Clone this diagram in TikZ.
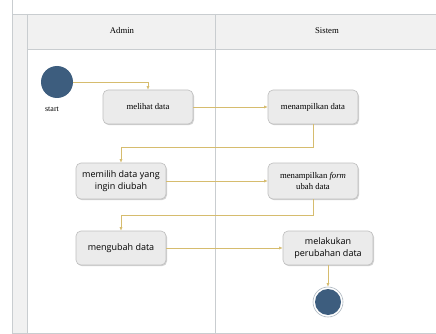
\documentclass[tikz,border=0pt]{standalone}
\usepackage{fontspec}
\setmainfont{Liberation Serif}
\newfontfamily\uisans{Open Sans}
\usetikzlibrary{arrows.meta,shadows,positioning}
\definecolor{lanegray}{HTML}{C9CDD0}
\definecolor{hdrfill}{HTML}{F1F1F1}
\definecolor{boxfill}{HTML}{EBEBEB}
\definecolor{boxline}{HTML}{BEBEBE}
\definecolor{flow}{HTML}{D6BC6E}
\definecolor{dotblue}{HTML}{3D5D7E}
\tikzset{
  actbox/.style={draw=boxline, fill=boxfill, rounded corners=5pt, line width=0.6pt,
    minimum width=90pt, minimum height=34pt, align=center, inner sep=2pt,
    drop shadow={shadow xshift=1pt, shadow yshift=-1.2pt, opacity=0.35, fill=gray}},
  serifbox/.style={actbox, font=\fontsize{8.7}{10.5}\selectfont},
  sansbox/.style={actbox, font=\uisans\fontsize{9}{11.5}\selectfont},
  flowline/.style={draw=flow, line width=0.6pt, -{Latex[length=3.5pt,width=3pt]}},
  laneline/.style={draw=lanegray, line width=0.7pt},
}
\begin{document}
\begin{tikzpicture}[x=1pt,y=-1pt]
\useasboundingbox (0,0) rectangle (436,334);
\fill[white] (0,0) rectangle (436,334);
% header and left strip
\fill[hdrfill] (27,14) rectangle (436,49);
\fill[hdrfill] (12,14) rectangle (27,334);
\draw[laneline] (12,0) -- (12,334);
\draw[laneline] (27,14) -- (27,334);
\draw[laneline] (12,14) -- (436,14);
\draw[laneline] (27,49) -- (436,49);
\draw[laneline] (215,14) -- (215,334);
\draw[laneline] (12,333) -- (436,333);
\node[font=\fontsize{8.7}{10}\selectfont] (hadmin) at (122,31) {Admin};
\node[font=\fontsize{8.7}{10}\selectfont] (hsistem) at (327,31) {Sistem};
% nodes
\node[circle, fill=dotblue, minimum size=32pt, inner sep=0pt] (start) at (57,82) {};
\node[font=\fontsize{8}{9}\selectfont] (startlbl) at (52,109) {start};
\node[serifbox] (melihat) at (148,107) {melihat data};
\node[serifbox] (tampil) at (313,107) {menampilkan data};
\node[sansbox, minimum height=36pt] (memilih) at (121,181) {memilih data yang\\ingin diubah};
\node[serifbox, minimum height=36pt] (form) at (313,181) {menampilkan \textit{form}\\ubah data};
\node[sansbox] (ubah) at (121,248) {mengubah data};
\node[sansbox] (lakukan) at (328,248) {melakukan\\perubahan data};
\node[circle, draw=lanegray!80!dotblue, line width=0.6pt, fill=white, minimum size=30pt, inner sep=0pt] (end) at (328,302) {};
\node[circle, fill=dotblue, minimum size=26pt, inner sep=0pt] (endin) at (end.center) {};
% connectors
\draw[flowline] (start.east) -| (melihat.north);
\draw[flowline] (melihat.east) -- (tampil.west);
\draw[flowline] (tampil.south) -- ++(0,23) -| (memilih.north);
\draw[flowline] (memilih.east) -- (form.west);
\draw[flowline] (form.south) -- ++(0,16) -| (ubah.north);
\draw[flowline] (ubah.east) -- (lakukan.west);
\draw[flowline] (lakukan.south) -- (end.north);
\end{tikzpicture}
\end{document}
